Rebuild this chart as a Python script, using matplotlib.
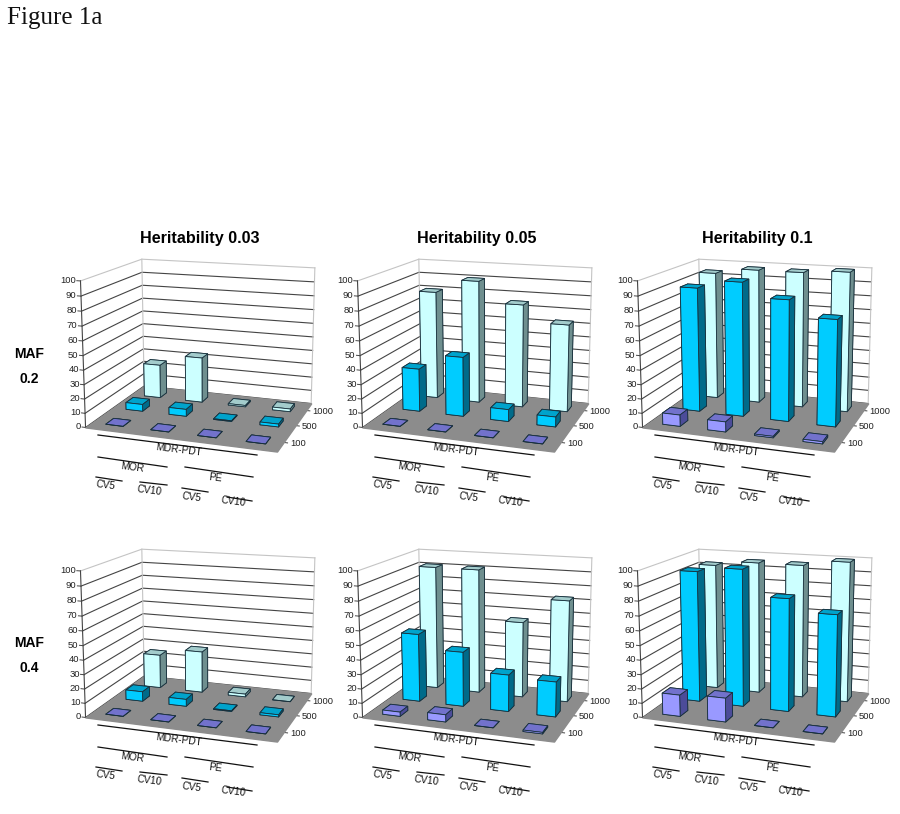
"""Figure 1a: power of MDR-PDT per heritability and MAF, 3D bars."""
import matplotlib
matplotlib.use('Agg')
import matplotlib.pyplot as plt
import numpy as np
from mpl_toolkits.mplot3d import proj3d
from mpl_toolkits.mplot3d.art3d import Poly3DCollection

plt.rcParams['font.family'] = ['Liberation Sans', 'DejaVu Sans']

###############################################################################
# Values, one list per sample size

categories = ['CV5', 'CV10', 'CV5', 'CV10']
sample_sizes = ['100', '500', '1000']
heritabilities = ['0.03', '0.05', '0.1']
mafs = ['0.2', '0.4']
z_ticks = list(range(0, 101, 10))

h03_maf2_n100 = [0, 0, 0, 0]
h03_maf2_n500 = [5, 5, 0.5, 2]
h03_maf2_n1000 = [25, 33.5, 1, 2]
h05_maf2_n100 = [0, 0, 0, 0]
h05_maf2_n500 = [31, 42.5, 8.5, 7]
h05_maf2_n1000 = [80, 90, 75, 63]
h10_maf2_n100 = [8, 7, 1, 1.5]
h10_maf2_n500 = [89, 95, 85, 74]
h10_maf2_n1000 = [94, 98, 98, 100]

h03_maf4_n100 = [0, 0, 0, 0]
h03_maf4_n500 = [7, 5, 0.5, 1.5]
h03_maf4_n1000 = [25, 30.5, 2, 0]
h05_maf4_n100 = [3, 5, 0, 1]
h05_maf4_n500 = [49, 39, 26, 24.5]
h05_maf4_n1000 = [91, 91, 55, 73]
h10_maf4_n100 = [15, 16.5, 0, 0]
h10_maf4_n500 = [93.5, 97, 79, 70.5]
h10_maf4_n1000 = [92.5, 96, 96, 100]

panels = [[[h03_maf2_n100, h03_maf2_n500, h03_maf2_n1000],
           [h05_maf2_n100, h05_maf2_n500, h05_maf2_n1000],
           [h10_maf2_n100, h10_maf2_n500, h10_maf2_n1000]],
          [[h03_maf4_n100, h03_maf4_n500, h03_maf4_n1000],
           [h05_maf4_n100, h05_maf4_n500, h05_maf4_n1000],
           [h10_maf4_n100, h10_maf4_n500, h10_maf4_n1000]]]

###############################################################################
# Style and layout (pixels of the 900x814 picture)

# front, top, side of the bars of each series
bar_colors = [('#9999ff', '#7272cc', '#4c4c99'),
              ('#00ccff', '#00a3cc', '#006b8a'),
              ('#ccffff', '#a3cccc', '#6f8f8f')]
floor_color = '#8c8c8c'
grid_color = '#444444'
edge_grid_color = '#c4c4c4'
bar_width = 0.39
bar_depth = 0.38

panel_dx = [0, 277, 557]
panel_dy = [0, 290]

# Where the corners of the chart box lie in the top left panel. The original
# perspective is not a plain camera, so the 3D projection is fitted to these.
box_corners = [((0, 0, 0), (86.5, 427)), ((4, 0, 0), (277, 452)),
               ((4, 3, 0), (311.5, 403)), ((0, 3, 0), (143, 386.5)),
               ((0, 0, 100), (79.5, 281)), ((0, 3, 100), (143, 259)),
               ((4, 3, 100), (314.5, 268))]

fig = plt.figure(figsize=(9, 8.14), dpi=100)

# overlay in pixel units for the hand drawn labels
overlay = fig.add_axes([0, 0, 1, 1], zorder=10)
overlay.set_xlim(0, 900)
overlay.set_ylim(814, 0)
overlay.axis('off')
overlay.patch.set_alpha(0)


def fit_projection(ax, dx, dy):
    display = [(px + dx, 814 - (py + dy)) for _, (px, py) in box_corners]
    view = ax.transData.inverted().transform(display)
    rows, rhs = [], []
    for ((x, y, z), _), (u, v) in zip(box_corners, view):
        rows.append([x, y, z, 1, 0, 0, 0, 0, -u * x, -u * y, -u * z])
        rhs.append(u)
        rows.append([0, 0, 0, 0, x, y, z, 1, -v * x, -v * y, -v * z])
        rhs.append(v)
    p = np.linalg.lstsq(np.array(rows), np.array(rhs), rcond=None)[0]
    # third row is only used for sorting the faces, far is large. It stays
    # negative, mplot3d drops what lies behind the camera.
    return np.array([p[:4], p[4:8], [-0.02, 0.08, -0.00075, -0.8],
                     [p[8], p[9], p[10], 1]])


def draw_panel(dx, dy, series):
    left, top, width, height = 20 + dx, 220 + dy, 340, 290
    ax = fig.add_axes([left / 900, 1 - (top + height) / 814,
                       width / 900, height / 814],
                      projection='3d', computed_zorder=False)
    # a 3D axes would force a square box
    ax.apply_aspect = lambda position=None: ax._set_position(
        ax.get_position(original=True), 'active')
    ax.apply_aspect()
    ax.patch.set_alpha(0)
    ax.set_axis_off()
    proj = fit_projection(ax, dx, dy)
    ax.get_proj = lambda: proj
    n_x, n_y = len(categories), len(sample_sizes)

    for z in z_ticks:
        color = edge_grid_color if z == 100 else grid_color
        ax.plot([0, 0, n_x], [0, n_y, n_y], [z, z, z], color=color, lw=0.8,
                zorder=1, clip_on=False)
        ax.plot([-0.08, 0], [0, 0], [z, z], color=grid_color, lw=0.7,
                zorder=1, clip_on=False)
    for x, y in [(0, n_y), (n_x, n_y)]:
        ax.plot([x, x], [y, y], [0, 100], color=edge_grid_color, lw=0.8,
                zorder=1, clip_on=False)
    ax.plot([0, 0], [0, 0], [0, 100], color=grid_color, lw=0.8, zorder=1,
            clip_on=False)

    floor = Poly3DCollection([[(0, 0, 0), (n_x, 0, 0), (n_x, n_y, 0),
                               (0, n_y, 0)]], facecolor=floor_color,
                             edgecolor=floor_color, zorder=2)
    ax.add_collection3d(floor)

    for j in range(n_y):
        ax.plot([n_x, n_x + 0.08], [j + 0.5, j + 0.5], [0, 0],
                color=grid_color, lw=0.7, zorder=1, clip_on=False)

    # back row first so that the near bars hide the far ones
    order = 3
    for j in range(n_y - 1, -1, -1):
        front, top_face, right = bar_colors[j]
        for i, value in enumerate(series[j]):
            # bar3d faces: bottom, top, front, back, left, right
            bar = ax.bar3d(i + 0.5 - bar_width / 2, j + 0.5 - bar_depth / 2, 0,
                           bar_width, bar_depth, value,
                           color=[top_face, top_face, front, front, right,
                                  right],
                           shade=False, edgecolor='#18303c', linewidth=0.6)
            bar.set_zorder(order)
            order += 1

    ax.set_xlim(0, n_x, view_margin=0)
    ax.set_ylim(0, n_y, view_margin=0)
    ax.set_zlim(0, 100, view_margin=0)

    # tick labels as plain 2D text at the projected position
    for z in z_ticks:
        x2, y2, _ = proj3d.proj_transform(-0.1, 0, z, proj)
        ax.text2D(x2, y2, str(z), transform=ax.transData, ha='right',
                  va='center', fontsize=6.8, color='#222222')
    for j, label in enumerate(sample_sizes):
        x2, y2, _ = proj3d.proj_transform(n_x + 0.13, j + 0.5, 0, proj)
        ax.text2D(x2, y2, label, transform=ax.transData, ha='left',
                  va='center', fontsize=6.8, color='#222222')
    return ax


def draw_levels(dx, dy):
    lines = [((98, 435), (257, 455)), ((98, 457), (167, 467)),
             ((185, 467), (253, 477)), ((96, 477), (122, 481)),
             ((140, 482), (167, 485)), ((182, 488), (208, 492)),
             ((227, 497), (252, 501))]
    for (x0, y0), (x1, y1) in lines:
        overlay.plot([x0 + dx, x1 + dx], [y0 + dy, y1 + dy], color='#111111',
                     lw=0.9)
    texts = [('MDR-PDT', 179, 450), ('MOR', 132, 467), ('PE', 215, 478)]
    cv_pos = [(106, 485), (149, 491), (192, 497), (233, 502)]
    texts += [(c, x, y) for c, (x, y) in zip(categories, cv_pos)]
    for label, x, y in texts:
        overlay.text(x + dx, y + dy, label, ha='center', va='center',
                     rotation=-7, rotation_mode='anchor', fontsize=7.2,
                     color='#111111')


###############################################################################
# The six panels

for r, row in enumerate(panels):
    for c, series in enumerate(row):
        draw_panel(panel_dx[c], panel_dy[r], series)
        draw_levels(panel_dx[c], panel_dy[r])

for c, h in enumerate(heritabilities):
    overlay.text(200 + panel_dx[c], 239, 'Heritability ' + h, ha='center',
                 va='center', fontsize=11.6, fontweight='bold')

for r, maf in enumerate(mafs):
    overlay.text(29, 354 + panel_dy[r] - (0 if r == 0 else 1), 'MAF',
                 ha='center', va='center', fontsize=10, fontweight='bold')
    overlay.text(29, 379 + panel_dy[r] - (0 if r == 0 else 1), maf,
                 ha='center', va='center', fontsize=10, fontweight='bold')

overlay.text(7, 24, 'Figure 1a', ha='left', va='baseline', fontsize=18,
             family='Liberation Serif', color='#111111')

fig.savefig('out.png', dpi=100)
